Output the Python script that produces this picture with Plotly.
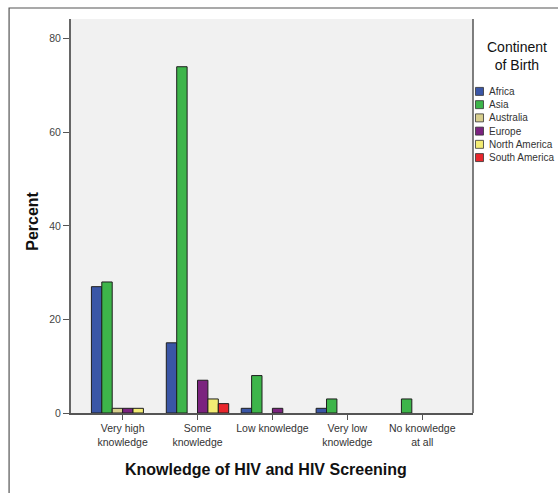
import plotly.graph_objects as go

# ---- data ----
categories = ["Very high<br>knowledge", "Some<br>knowledge", "Low knowledge",
              "Very low<br>knowledge", "No knowledge<br>at all"]
series_names = ["Africa", "Asia", "Australia", "Europe", "North America", "South America"]
africa = [27, 15, 1, 1, None]
asia = [28, 74, 8, 3, 3]
australia = [1, None, None, None, None]
europe = [1, 7, 1, None, None]
north_america = [1, 3, None, None, None]
south_america = [None, 2, None, None, None]
series_values = [africa, asia, australia, europe, north_america, south_america]
series_colors = ["#3A56A6", "#3DB54A", "#D8CF8E", "#7B237F", "#F3EC74", "#E8262C"]
y_ticks = [0, 20, 40, 60, 80]

W, H = 558, 493
L, R, T, B = 71, 473.5, 19, 413.5  # plot area in pixels


def px_x(p):
    return (p - L) / (R - L)


def px_y(p):
    return (B - p) / (B - T)


x_idx = list(range(len(categories)))
fig = go.Figure()
for name, vals, col in zip(series_names, series_values, series_colors):
    fig.add_trace(go.Bar(
        x=x_idx, y=vals, name=name,
        marker=dict(color=col, line=dict(color="#1e1e1e", width=1)),
        showlegend=False,
    ))

shapes = []
annotations = []

# right border of the plot area
shapes.append(dict(type="line", xref="paper", yref="paper", x0=1, x1=1, y0=0, y1=1,
                   line=dict(color="#555555", width=1.5)))
# outer image frame (top and left)
shapes.append(dict(type="rect", xref="paper", yref="paper",
                   x0=px_x(9), x1=px_x(W + 5), y0=px_y(H + 5), y1=px_y(8),
                   line=dict(color="#555555", width=1.2), fillcolor="rgba(0,0,0,0)", layer="below"))

# custom legend
annotations.append(dict(xref="paper", yref="paper", x=px_x(518), y=px_y(56),
                        text="Continent<br>of Birth", showarrow=False,
                        font=dict(family="Liberation Sans, Arial", size=14, color="#111111"),
                        xanchor="center", yanchor="middle", align="center"))
y0 = 91.5
step = 13.25
for i, (name, col) in enumerate(zip(series_names, series_colors)):
    cy = y0 + i * step
    shapes.append(dict(type="rect", xref="paper", yref="paper",
                       x0=px_x(476), x1=px_x(484), y0=px_y(cy + 4), y1=px_y(cy - 4),
                       fillcolor=col, line=dict(color="#333333", width=0.8)))
    annotations.append(dict(xref="paper", yref="paper", x=px_x(487.5), y=px_y(cy),
                            text=name, showarrow=False, xanchor="left", yanchor="middle",
                            font=dict(family="Liberation Sans, Arial", size=10, color="#333333")))

# axis titles
annotations.append(dict(xref="paper", yref="paper", x=px_x(266), y=px_y(470),
                        text="<b>Knowledge of HIV and HIV Screening</b>", showarrow=False,
                        xanchor="center", yanchor="middle",
                        font=dict(family="Liberation Sans, Arial", size=16, color="#111111")))
annotations.append(dict(xref="paper", yref="paper", x=px_x(33), y=px_y(222),
                        text="<b>Percent</b>", showarrow=False, textangle=-90,
                        xanchor="center", yanchor="middle",
                        font=dict(family="Liberation Sans, Arial", size=16, color="#111111")))

fig.update_layout(
    width=W, height=H,
    margin=dict(l=L, r=W - R, t=T, b=H - B, pad=0),
    paper_bgcolor="white", plot_bgcolor="#F1F1F1",
    barmode="group", bargap=0.167, bargroupgap=0,
    shapes=shapes, annotations=annotations,
    font=dict(family="Liberation Sans, Arial"),
    xaxis=dict(
        range=[-0.689, 4.678], tickmode="array", tickvals=x_idx, ticktext=categories,
        showgrid=False, zeroline=False, showline=True, linecolor="#555555", linewidth=1.5,
        ticks="outside", ticklen=5, tickcolor="#555555", tickwidth=1,
        tickfont=dict(size=10.5, color="#333333"), fixedrange=True,
    ),
    yaxis=dict(
        range=[0, 84.2], tickmode="array", tickvals=y_ticks,
        showgrid=False, zeroline=False, showline=True, linecolor="#666666", linewidth=2,
        ticks="outside", ticklen=6, tickcolor="#555555", tickwidth=1,
        tickfont=dict(size=10.5, color="#444444"), fixedrange=True,
    ),
)

fig.write_html("out.html", config={"displayModeBar": False},
               post_script="document.body.style.margin='0';document.body.style.overflow='hidden';")
